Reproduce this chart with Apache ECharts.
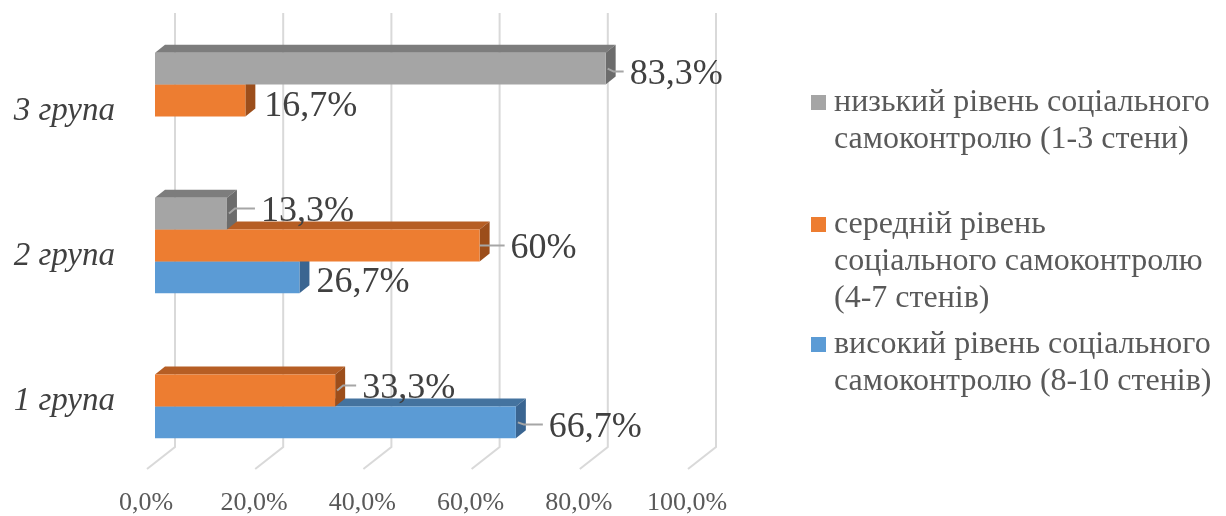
<!DOCTYPE html>
<html><head><meta charset="utf-8">
<script src="https://cdn.jsdelivr.net/npm/echarts@6/dist/echarts.min.js"></script>
<style>html,body{margin:0;padding:0;background:#fff}#c{width:1226px;height:516px}</style>
</head><body><div id="c"></div>
<script>
// ---- data ----
const categories = ['1 група', '2 група', '3 група'];
const nameLow = 'низький рівень соціального\nсамоконтролю (1-3 стени)';
const nameMid = 'середній рівень\nсоціального самоконтролю\n(4-7 стенів)';
const nameHigh = 'високий рівень соціального\nсамоконтролю (8-10 стенів)';
const highValues = [66.7, 26.7, 0];
const midValues = [33.3, 60, 16.7];
const lowValues = [0, 13.3, 83.3];
const xTicks = [0, 20, 40, 60, 80, 100];

// ---- styling / layout (not data) ----
const FONT = 'Liberation Serif';
const DX = 10, DY = 8;
const seriesDefs = [
  {name: nameHigh, values: highValues, slot: 2, front: '#5B9BD5', top: '#44739F', side: '#3A6591',
   nudge: [[33, 2], [17, 2], [24, 0]]},
  {name: nameMid, values: midValues, slot: 1, front: '#ED7D31', top: '#B65E24', side: '#9C4E1B',
   nudge: [[27, -5], [31, 0], [19, 3]]},
  {name: nameLow, values: lowValues, slot: 0, front: '#A5A5A5', top: '#7D7D7D', side: '#6C6C6C',
   nudge: [[24, 0], [34, -5], [24, 3]]}
];
const TEXT_SHIFT = 3;

function fmtPct(v) {
  return (Math.round(v) === v ? String(v) : v.toFixed(1).replace('.', ',')) + '%';
}

function barRenderer(def) {
  return function (params, api) {
    const v = api.value(0), ci = api.value(1);
    if (!v) return null;
    const p0 = api.coord([0, ci]);
    const p1 = api.coord([v, ci]);
    const band = api.size([0, 1])[1];
    const h = band * 0.22;
    const y0 = p0[1] - 1.5 * h + def.slot * h;
    const x0 = p0[0], x1 = p1[0];
    const cy = y0 + h / 2;
    const nd = def.nudge[ci];
    const tx = x1 + nd[0], ty = cy + nd[1];
    const children = [
      {type: 'polygon', shape: {points: [[x0, y0], [x1, y0], [x1 + DX, y0 - DY], [x0 + DX, y0 - DY]]},
       style: {fill: def.top}},
      {type: 'polygon', shape: {points: [[x1, y0], [x1 + DX, y0 - DY], [x1 + DX, y0 + h - DY], [x1, y0 + h]]},
       style: {fill: def.side}},
      {type: 'rect', shape: {x: x0, y: y0, width: x1 - x0, height: h}, style: {fill: def.front}}
    ];
    if (nd[0] > 22) {
      const pts = nd[1] === 0
        ? [[x1, cy], [tx - 6, ty]]
        : [[x1 + 2, cy], [x1 + 8, ty], [tx - 6, ty]];
      children.push({type: 'polyline', shape: {points: pts},
        style: {stroke: '#A6A6A6', lineWidth: 2, fill: null}});
    }
    children.push({type: 'text', x: tx, y: ty + TEXT_SHIFT,
      style: {text: fmtPct(v), fill: '#404040', font: '36px "' + FONT + '"', align: 'left', verticalAlign: 'middle'}});
    return {type: 'group', children: children};
  };
}

function gridRenderer(params, api) {
  const v = api.value(0);
  const x = api.coord([v, 0])[0];
  const cs = params.coordSys;
  const bottom = cs.y + cs.height;
  return {type: 'polyline', shape: {points: [[x + 20, cs.y - 15], [x + 20, bottom - 16], [x - 8, bottom + 6]]},
    style: {stroke: '#D9D9D9', lineWidth: 2, fill: null}};
}

const legendDefs = [
  {name: nameLow, lines: 2, iconTop: 95},
  {name: nameMid, lines: 3, iconTop: 217},
  {name: nameHigh, lines: 2, iconTop: 337}
];
const LH = 37;

const series = [{
  type: 'custom', name: 'grid', silent: true, z: 1,
  data: xTicks.map(v => [v, 0]), encode: {x: 0, y: 1}, renderItem: gridRenderer
}].concat(seriesDefs.map(def => ({
  type: 'custom', name: def.name, z: 2,
  itemStyle: {color: def.front},
  data: def.values.map((v, i) => [v, i]), encode: {x: 0, y: 1},
  renderItem: barRenderer(def)
})));

const chart = echarts.init(document.getElementById('c'), null, {renderer: 'canvas'});
chart.setOption({
  animation: false,
  backgroundColor: '#fff',
  grid: {left: 155, right: 530, top: 28, bottom: 52},
  xAxis: {
    type: 'value', min: 0, max: 100, interval: 20,
    axisLine: {show: false}, axisTick: {show: false}, splitLine: {show: false},
    axisLabel: {formatter: v => v.toFixed(1).replace('.', ',') + '%', fontFamily: FONT, fontSize: 26,
      color: '#595959', margin: 27, padding: [0, 18, 0, 0]}
  },
  yAxis: {
    type: 'category', data: categories,
    axisLine: {show: false}, axisTick: {show: false},
    axisLabel: {fontFamily: FONT, fontStyle: 'italic', fontSize: 33, color: '#404040', margin: 40,
      verticalAlign: 'top', lineHeight: 22}
  },
  legend: legendDefs.map(ld => ({
    data: [ld.name], orient: 'vertical', left: 811,
    top: ld.iconTop + 7.5 - (LH / 2) * (2 * ld.lines - 1),
    padding: 0, itemWidth: 15, itemHeight: 15, icon: 'rect', selectedMode: false,
    formatter: name => '\n'.repeat(ld.lines - 1) + name,
    textStyle: {fontFamily: FONT, fontSize: 32, color: '#595959', lineHeight: LH, padding: [0, 0, 0, 3]}
  })),
  series: series
});
</script>
</body></html>
